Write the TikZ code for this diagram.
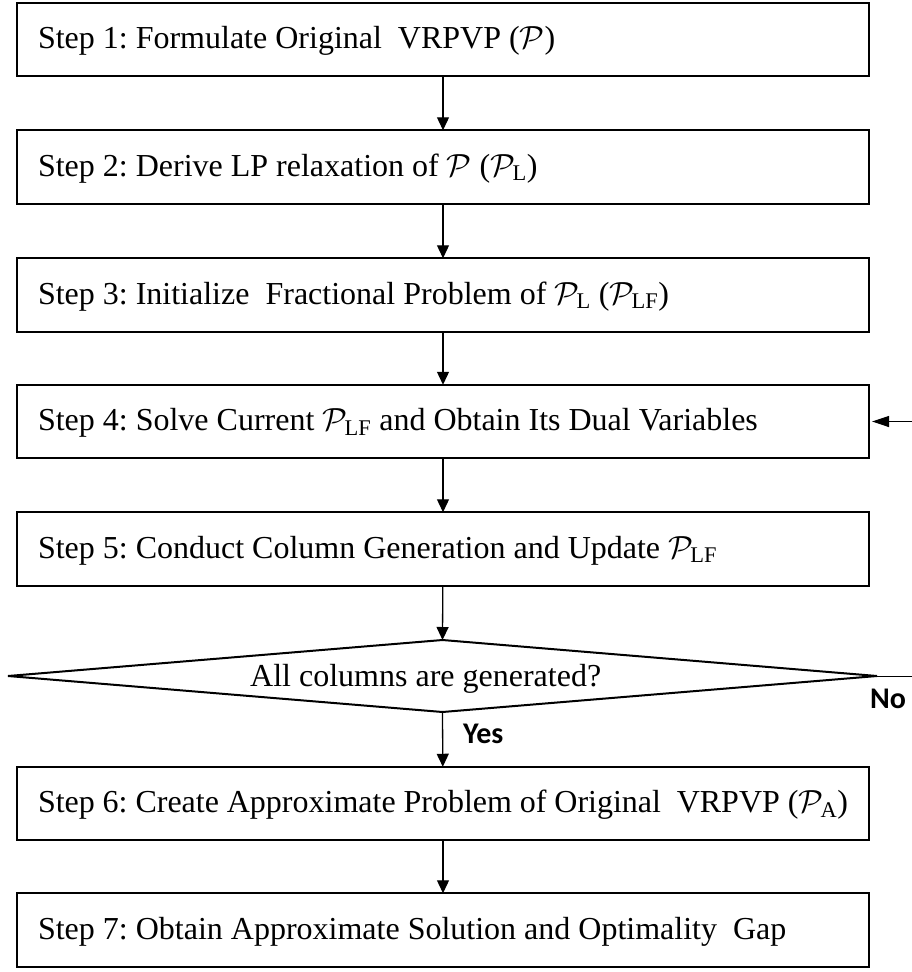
\RequirePackage{fix-cm}
\documentclass[tikz,border=0pt]{standalone}
\usepackage{amsmath}
\usepackage{fontspec}
\setmainfont{Liberation Serif}
\newfontfamily\lblfont{Carlito}
\usetikzlibrary{shapes.geometric,arrows.meta}
\frenchspacing
\newcommand{\Pc}[1]{\mathcal{P}_{\text{#1}}}
\tikzset{
  stepbox/.style={draw, line width=2pt, rectangle, minimum width=852pt, minimum height=73.5pt,
    inner xsep=21pt, inner ysep=0pt, outer sep=0pt, text width=810pt, align=flush left,
    text height=20pt, text depth=2pt, font=\fontsize{32}{38}\selectfont\frenchspacing},
  decision/.style={draw, line width=2pt, diamond, minimum width=869pt, minimum height=72pt,
    inner sep=0pt, outer sep=0pt},
  plain/.style={font=\fontsize{32}{38}\selectfont, inner sep=0pt},
  lbl/.style={font=\lblfont\fontsize{30}{36}\selectfont\bfseries, inner sep=0pt},
  flow/.style={line width=1.3pt, -{Triangle[length=13pt,width=12pt]}},
  back/.style={line width=1.2pt, -{Triangle[length=17pt,width=11pt]}}
}
\begin{document}
\begin{tikzpicture}[x=1pt,y=-1pt]
\useasboundingbox (0,0) rectangle (912,972);
\node[stepbox] (s1) at (443,39.5) {Step 1: Formulate Original\ \ VRPVP ($\mathcal{P}$)};
\node[stepbox] (s2) at (443,167) {Step 2: Derive LP relaxation of $\mathcal{P}$ ($\Pc{L}$)};
\node[stepbox] (s3) at (443,295) {Step 3: Initialize\ \ Fractional Problem of $\Pc{L}$ ($\Pc{LF}$)};
\node[stepbox] (s4) at (443,421.5) {Step 4: Solve Current $\Pc{LF}$ and Obtain Its Dual Variables};
\node[stepbox] (s5) at (443,549) {Step 5: Conduct Column Generation and Update $\Pc{LF}$};
\node[decision] (d) at (442.5,676) {};
\node[plain, anchor=base west] (dt) at (250,686) {All columns are generated?};
\node[stepbox] (s6) at (443,803.5) {Step 6: Create Approximate Problem of Original\ \ VRPVP ($\Pc{A}$)};
\node[stepbox] (s7) at (443,930) {Step 7: Obtain Approximate Solution and Optimality\ \ Gap};
\node[lbl, anchor=base west] (yes) at (463,743) {Yes};
\node[lbl, anchor=base west] (no) at (870,708) {No};
\coordinate (r1) at (912,676);
\coordinate (r2) at (912,421.5);
\draw[flow] (s1) -- (s2);
\draw[flow] (s2) -- (s3);
\draw[flow] (s3) -- (s4);
\draw[flow] (s4) -- (s5);
\draw[flow] (s5) -- (d.north);
\draw[flow] (d.south) -- (s6);
\draw[flow] (s6) -- (s7);
\draw[line width=1pt] (d.east) -- (r1);
\draw[back, shorten >=3pt] (r2) -- (s4.east);
\end{tikzpicture}
\end{document}
